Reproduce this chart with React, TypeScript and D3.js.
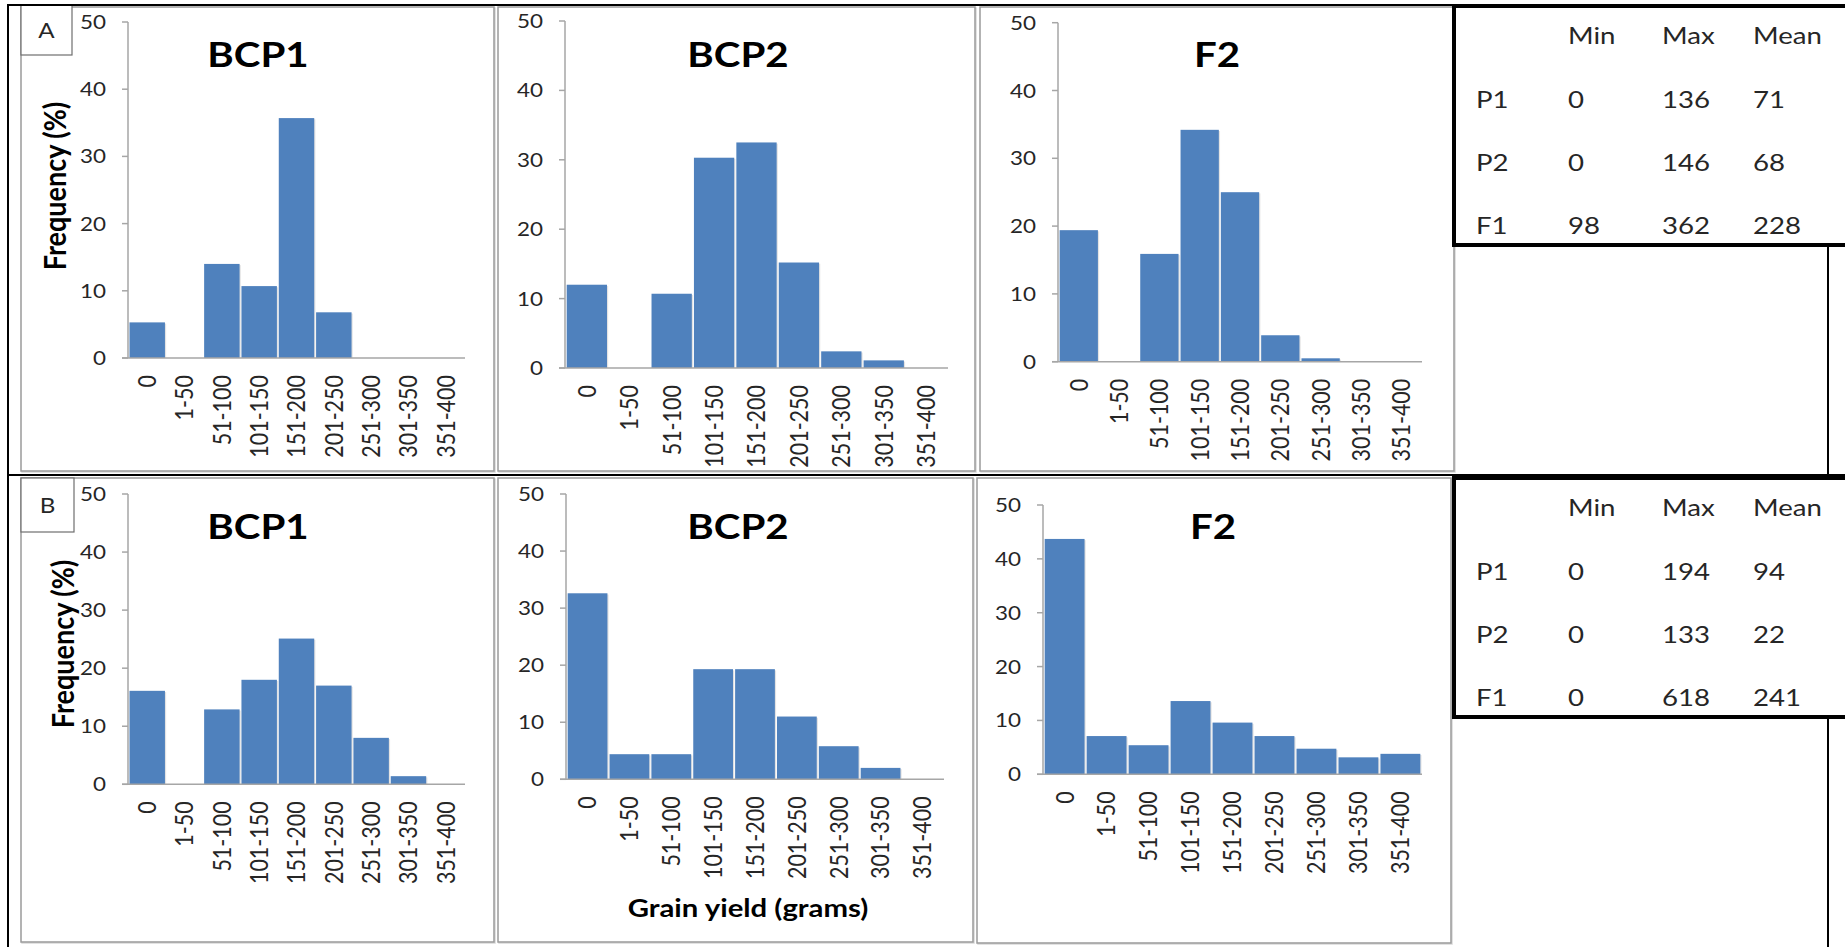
import React from "react";
import * as d3 from "d3";

const categories = ["0", "1-50", "51-100", "101-150", "151-200", "201-250", "251-300", "301-350", "351-400"];
const yTicks = [0, 10, 20, 30, 40, 50];

const aBCP1 = [5.3, 0, 14.0, 10.7, 35.7, 6.8, 0, 0, 0];
const aBCP2 = [12.0, 0, 10.7, 30.3, 32.5, 15.2, 2.4, 1.1, 0];
const aF2 = [19.4, 0, 15.9, 34.2, 25.0, 3.9, 0.5, 0, 0];
const bBCP1 = [16.1, 0, 12.9, 18.0, 25.1, 17.0, 8.0, 1.4, 0];
const bBCP2 = [32.6, 4.4, 4.4, 19.3, 19.3, 11.0, 5.8, 2.0, 0];
const bF2 = [43.7, 7.1, 5.4, 13.6, 9.6, 7.1, 4.75, 3.15, 3.8];

const tableCols = ["Min", "Max", "Mean"];
const tableRows = ["P1", "P2", "F1"];
const tableA = [[0, 136, 71], [0, 146, 68], [98, 362, 228]];
const tableB = [[0, 194, 94], [0, 133, 22], [0, 618, 241]];

const yAxisTitle = "Frequency (%)";
const xAxisTitle = "Grain yield (grams)";

const SX = 1.15;
const FONT = "Lato, 'Noto Sans', sans-serif";
const BAR = "#4F81BD";
const AXIS = "#a6a6a6";
const TXT = "#262626";

function T(props: any) {
  const { x, y, size, weight, anchor, rotate, fill, children, dy } = props;
  const tr = `translate(${x},${y}) scale(${SX},1)${rotate ? " rotate(-90)" : ""}`;
  return (
    <text
      transform={tr}
      fontFamily={FONT}
      fontSize={size}
      fontWeight={weight || 400}
      textAnchor={anchor || "start"}
      fill={fill || TXT}
      dy={dy}
    >
      {children}
    </text>
  );
}

function Panel(p: any) {
  const x = d3.scaleBand<string>().domain(categories).range([p.ax, p.xe]).paddingInner(0.05).paddingOuter(0.04);
  const y = d3.scaleLinear().domain([0, 50]).range([p.yb, p.yt]);
  const [fx0, fy0, fx1, fy1] = p.frame;
  return (
    <g>
      <rect x={fx0 + 1} y={fy0 + 1} width={fx1 - fx0} height={fy1 - fy0} fill="none" stroke="#d9d9d9" strokeWidth={1.5} />
      <rect x={fx0} y={fy0} width={fx1 - fx0} height={fy1 - fy0} fill="#fff" stroke="#9a9a9a" strokeWidth={1.5} />
      {categories.map((c, i) => {
        const v = p.data[i];
        if (v <= 0) return null;
        return (
          <g key={c}>
            <rect x={(x(c) as number) + 1.2} y={y(v) + 1.2} width={x.bandwidth()} height={y(0) - y(v) - 1.2} fill="#e3e3e3" />
            <rect x={x(c)} y={y(v)} width={x.bandwidth()} height={y(0) - y(v)} fill={BAR} />
          </g>
        );
      })}
      <line x1={p.ax} x2={p.ax} y1={y(50)} y2={y(0)} stroke={AXIS} strokeWidth={1.5} />
      <line x1={p.ax - 6} x2={p.xe} y1={y(0)} y2={y(0)} stroke={AXIS} strokeWidth={1.5} />
      {yTicks.map((t) => (
        <g key={t}>
          <line x1={p.ax - 6} x2={p.ax} y1={y(t)} y2={y(t)} stroke={AXIS} strokeWidth={1.5} />
          <T x={p.ax - 22} y={y(t)} size={19.5} anchor="end" dy="0.36em">{t}</T>
        </g>
      ))}
      {categories.map((c) => (
        <T key={c} x={(x(c) as number) + x.bandwidth() / 2} y={y(0) + 17} size={21.5} anchor="end" rotate dy="0.36em">
          {c}
        </T>
      ))}
      <T x={p.tcx} y={p.tby} size={35} weight={700} anchor="middle" fill="#000">{p.title}</T>
      {p.ylab && (
        <T x={p.ylab.x} y={p.ylab.y} size={27} weight={700} anchor="middle" rotate dy="0.36em" fill="#000">{yAxisTitle}</T>
      )}
      {p.xlab && (
        <T x={p.xlab.x} y={p.xlab.y} size={25.5} weight={700} anchor="middle" fill="#000">{xAxisTitle}</T>
      )}
      {p.letter && (
        <g>
          <rect x={p.letter.box[0]} y={p.letter.box[1]} width={p.letter.box[2] - p.letter.box[0]} height={p.letter.box[3] - p.letter.box[1]} fill="#fff" stroke="#6e6e6e" strokeWidth={1.2} />
          <T x={(p.letter.box[0] + p.letter.box[2]) / 2} y={(p.letter.box[1] + p.letter.box[3]) / 2} size={21} anchor="middle" dy="0.36em">{p.letter.t}</T>
        </g>
      )}
    </g>
  );
}

function Table(p: any) {
  const colX = [1568, 1662, 1753];
  const rowY = [p.top + 102, p.top + 165, p.top + 228];
  return (
    <g>
      <rect x={1454} y={p.top} width={420} height={p.bottom - p.top} fill="#fff" stroke="#000" strokeWidth={4} />
      {tableCols.map((c, i) => (
        <T key={c} x={colX[i]} y={p.top + 38} size={24}>{c}</T>
      ))}
      {tableRows.map((r, ri) => (
        <g key={r}>
          <T x={1476} y={rowY[ri]} size={24}>{r}</T>
          {p.data[ri].map((v: number, ci: number) => (
            <T key={ci} x={colX[ci]} y={rowY[ri]} size={24}>{v}</T>
          ))}
        </g>
      ))}
    </g>
  );
}

export default function App() {
  const panels = [
    { data: aBCP1, title: "BCP1", frame: [21, 7, 494, 471], ax: 128, xe: 465, yt: 22, yb: 358, tcx: 258, tby: 67, ylab: { x: 55, y: 186 }, letter: { t: "A", box: [21, 5, 72, 55] } },
    { data: aBCP2, title: "BCP2", frame: [498, 7, 975, 471], ax: 565, xe: 948, yt: 21, yb: 368, tcx: 738, tby: 67 },
    { data: aF2, title: "F2", frame: [980, 7, 1454, 471], ax: 1058, xe: 1422, yt: 22.7, yb: 361.7, tcx: 1217, tby: 67 },
    { data: bBCP1, title: "BCP1", frame: [21, 478, 494, 942], ax: 128, xe: 465, yt: 494, yb: 784.3, tcx: 258, tby: 539, ylab: { x: 63, y: 644 }, letter: { t: "B", box: [21, 478, 74, 532] } },
    { data: bBCP2, title: "BCP2", frame: [498, 478, 973, 942], ax: 566, xe: 944, yt: 494, yb: 779.3, tcx: 738, tby: 539, xlab: { x: 748, y: 917 } },
    { data: bF2, title: "F2", frame: [977, 478, 1451, 943], ax: 1043, xe: 1422, yt: 505, yb: 774.3, tcx: 1213, tby: 539 },
  ];
  return (
    <svg width={1845} height={947} style={{ position: "absolute", left: 0, top: 0, background: "#fff" }}>
      <rect x={0} y={0} width={1845} height={947} fill="#fff" />
      {panels.map((p, i) => (
        <Panel key={i} {...p} />
      ))}
      <line x1={8} x2={1845} y1={5} y2={5} stroke="#000" strokeWidth={2} />
      <line x1={8} x2={8} y1={4} y2={947} stroke="#000" strokeWidth={2} />
      <line x1={8} x2={1845} y1={475} y2={475} stroke="#000" strokeWidth={2} />
      <line x1={1828} x2={1828} y1={245} y2={477} stroke="#000" strokeWidth={2} />
      <line x1={1828} x2={1828} y1={717} y2={947} stroke="#000" strokeWidth={2} />
      <Table top={6} bottom={245} data={tableA} />
      <Table top={478} bottom={717} data={tableB} />
    </svg>
  );
}
